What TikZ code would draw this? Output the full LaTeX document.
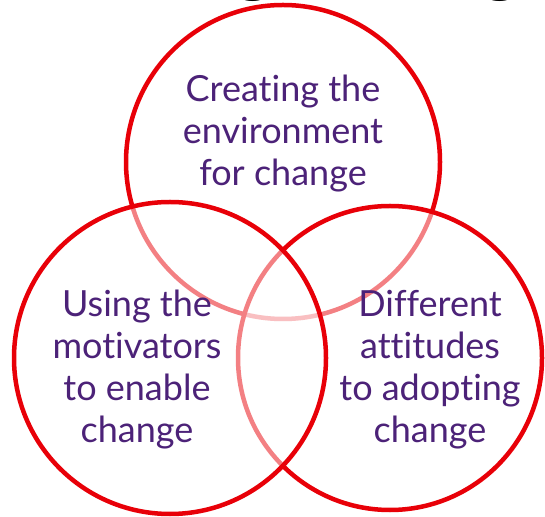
\documentclass[tikz,border=0pt]{standalone}
\usepackage{fontspec}
\setmainfont{Lato}[Ligatures=NoCommon]
\newfontfamily\titlefont{lmroman10-bold.otf}
\definecolor{vennred}{RGB}{232,0,8}
\definecolor{textpurple}{RGB}{76,34,120}

\begin{document}
\begin{tikzpicture}[x=1pt,y=1pt,
  venn/.style={circle, draw=vennred, line width=4.5pt, fill=white,
               fill opacity=0.5, inner sep=0pt, outer sep=0pt},
  label/.style={text=textpurple, align=center, font=\fontsize{36}{42}\selectfont},
  titleg/.style={anchor=base, font=\titlefont\fontsize{50}{60}\selectfont}]
\useasboundingbox (0,0) rectangle (545,516);

\coordinate (T) at (283,354);
\coordinate (L) at (170,158);
\coordinate (R) at (390,158);

%title letters, cut off by the page edge
\node[titleg] (gA) at (253,524) {g};
\node[titleg] (gB) at (500,524) {g};

%circles, top first, left last
\node[venn, minimum size=314pt] (top) at (T) {};
\node[venn, minimum size=304pt] (right) at (R) {};
\node[venn, minimum size=312pt] (left) at (L) {};

%labels
\node[label] (envtext) at (283,382) {Creating the\\environment\\for change};
\node[label] (mottext) at (137,146) {Using the\\motivators\\to enable\\change};
\node[label] (atttext) at (430,146) {Different\\attitudes\\to adopting\\change};

\end{tikzpicture}
\end{document}
